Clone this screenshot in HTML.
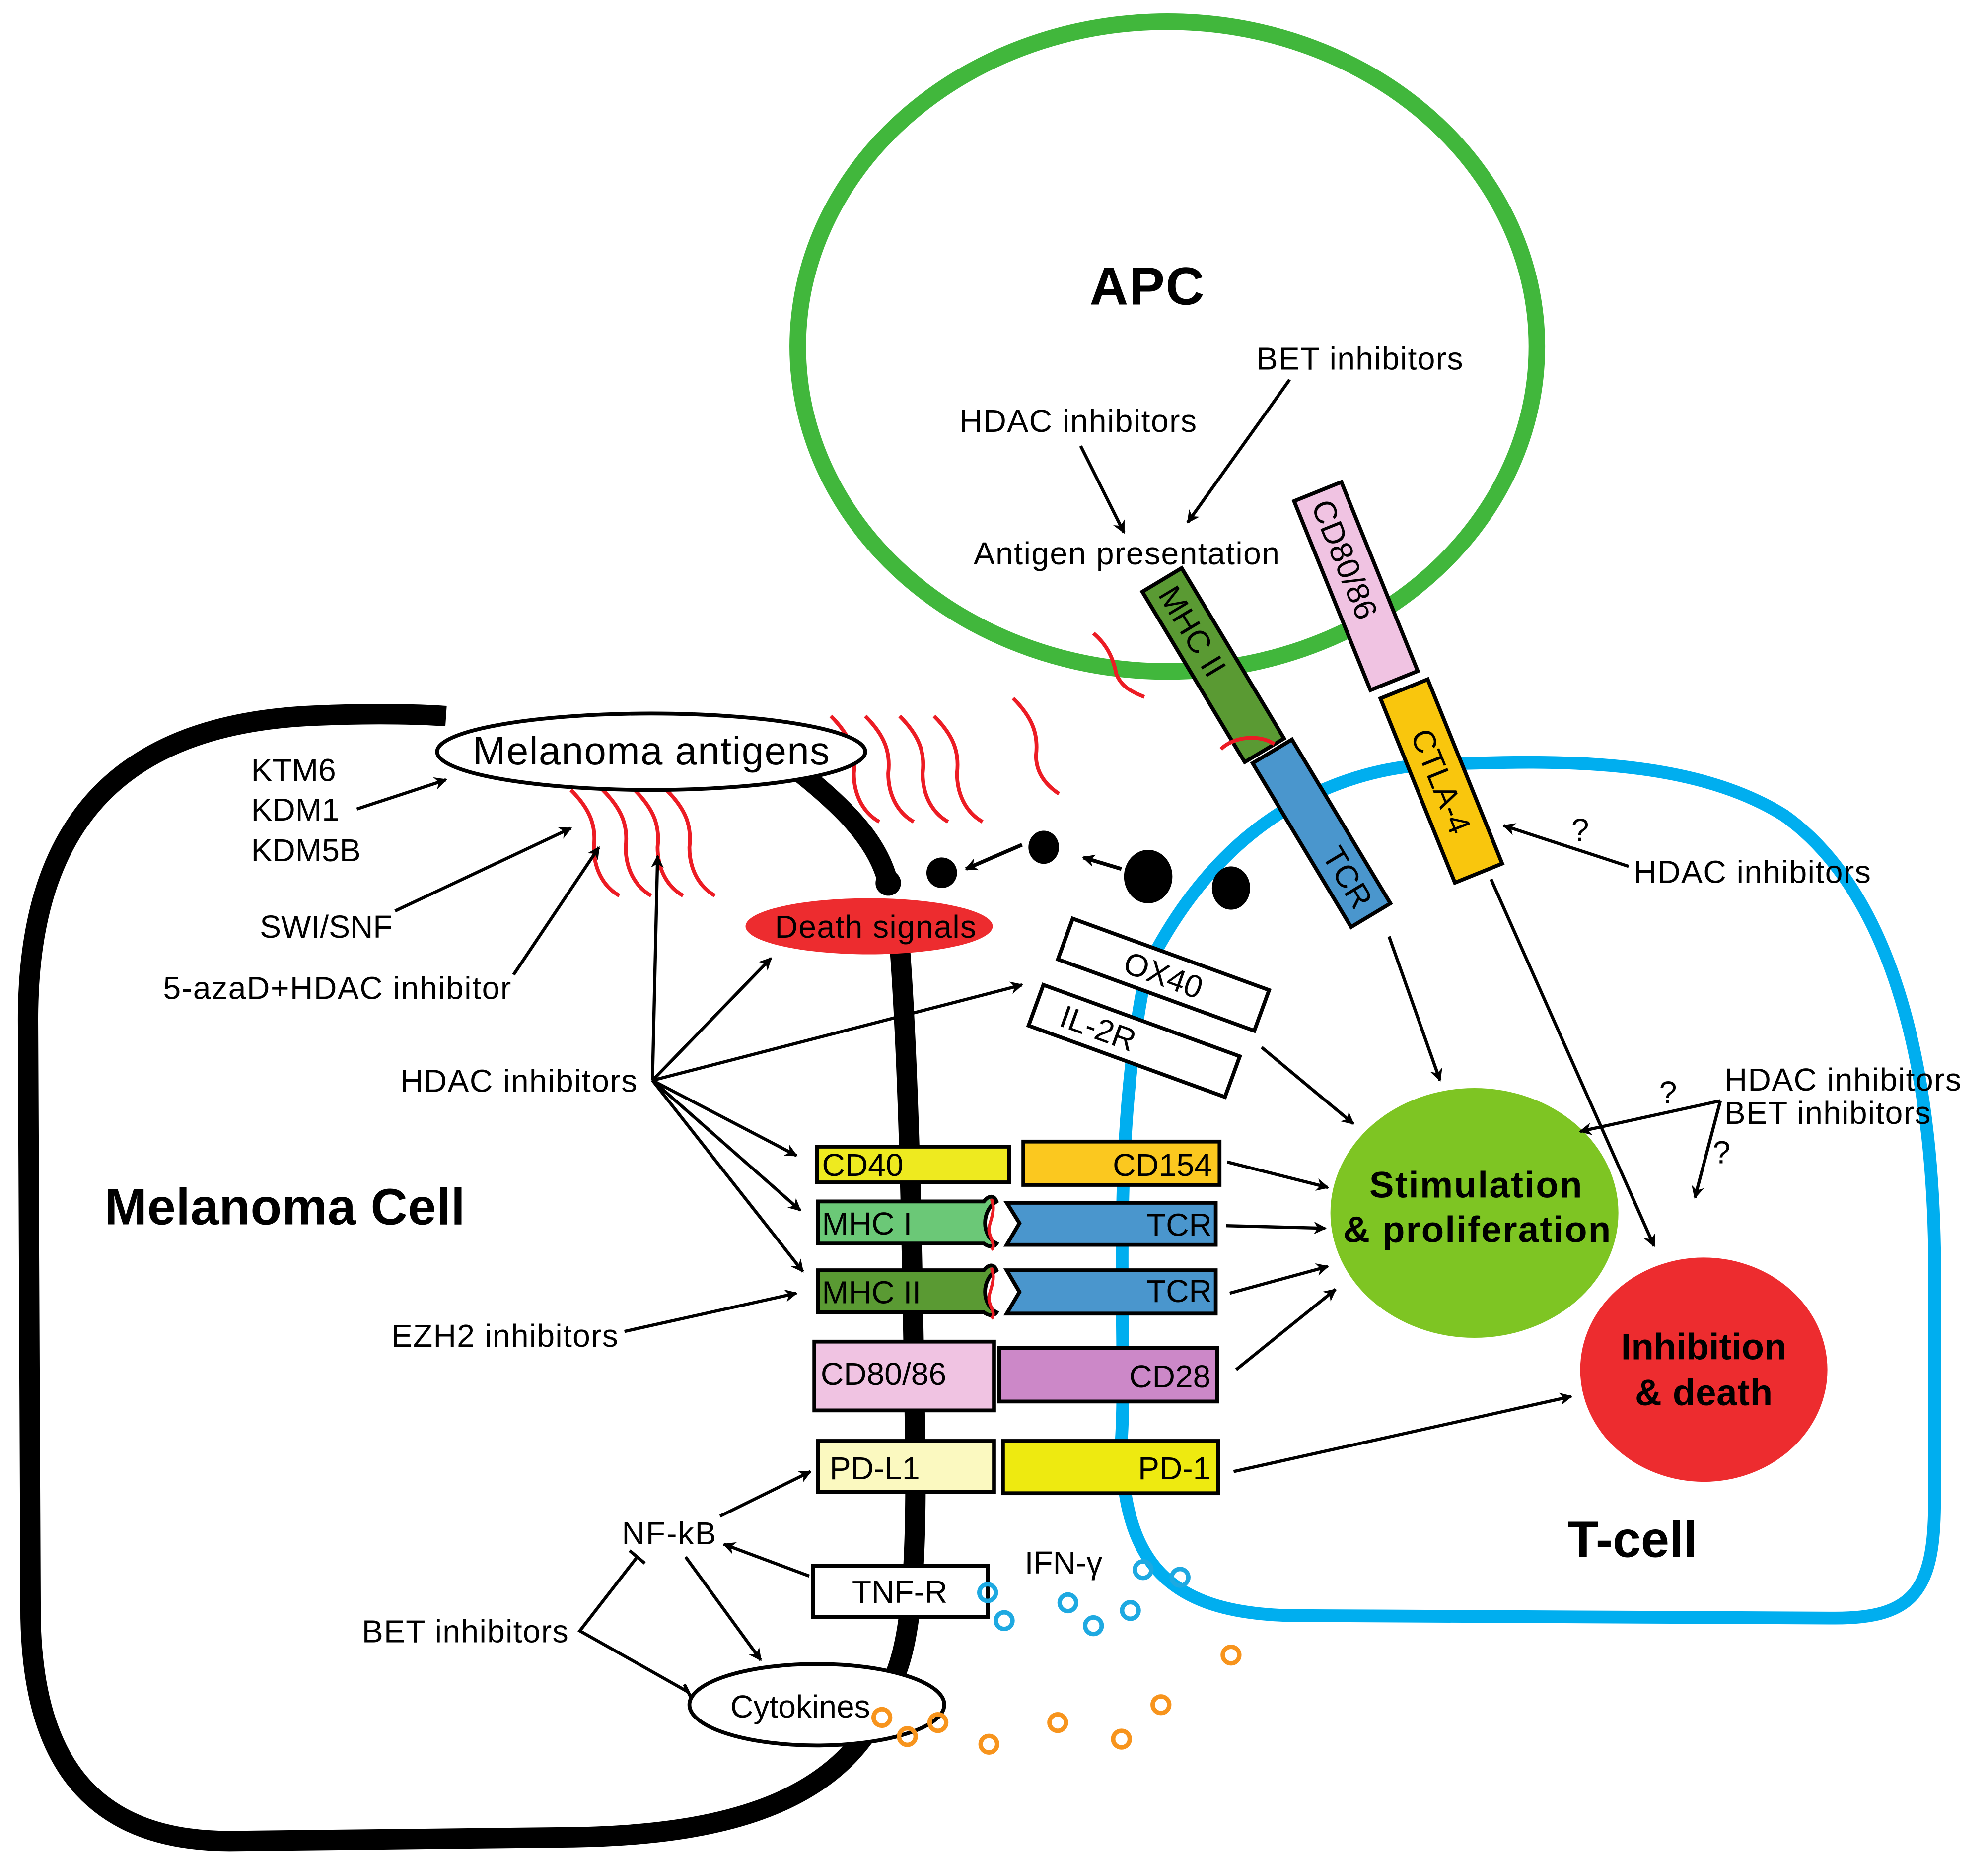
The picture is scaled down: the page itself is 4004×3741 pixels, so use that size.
<!DOCTYPE html>
<html><head><meta charset="utf-8"><style>
html,body{margin:0;padding:0;background:#fff}
svg{display:block}
text{font-family:"Liberation Sans",Arial,sans-serif;fill:#000}
</style></head><body>
<svg width="4004" height="3741" viewBox="0 0 1560 1457.5" xmlns="http://www.w3.org/2000/svg">
<defs>
<marker id="a" markerWidth="10" markerHeight="10" refX="9" refY="5" orient="auto" markerUnits="userSpaceOnUse" viewBox="0 0 10 10">
<path d="M0,0 L10,5 L0,10 L3,5 z" fill="#000"/></marker>
</defs>
<rect width="1560" height="1458" fill="#fff"/>

<!-- APC -->
<ellipse cx="916" cy="272" rx="290" ry="255" fill="none" stroke="#41b73c" stroke-width="13"/>
<!-- T-cell -->
<path d="M900,760 C870,900 885,1050 880,1130 C880,1230 920,1265 1010,1268 L1440,1270 C1500,1270 1518,1250 1518,1180 L1518,980 C1515,800 1470,690 1400,640 C1320,590 1200,598 1120,600 C1050,605 960,640 900,760 Z" fill="none" stroke="#00aeef" stroke-width="10"/>
<!-- Melanoma cell outline -->
<path d="M630,608 C670,640 690,665 697,693" fill="none" stroke="#000" stroke-width="16" stroke-linecap="round"/>
<path d="M706,742 C714,850 716,1000 718,1120 C720,1230 715,1290 700,1320 C670,1410 580,1440 450,1442 L180,1445 C70,1445 26,1380 24,1270 L22,800 C22,640 100,570 240,562 C280,560 320,560 350,562" fill="none" stroke="#000" stroke-width="16"/>

<!-- red squiggles -->
<g fill="none" stroke="#ec1c24" stroke-width="3">
<path d="M448,620 c15,15 20,28 18,45 c0,15 6,30 20,38"/>
<path d="M473,620 c15,15 20,28 18,45 c0,15 6,30 20,38"/>
<path d="M498,620 c15,15 20,28 18,45 c0,15 6,30 20,38"/>
<path d="M523,620 c15,15 20,28 18,45 c0,15 6,30 20,38"/>
<path d="M652,562 c15,15 20,28 18,45 c0,15 6,30 20,38"/>
<path d="M679,562 c15,15 20,28 18,45 c0,15 6,30 20,38"/>
<path d="M706,562 c15,15 20,28 18,45 c0,15 6,30 20,38"/>
<path d="M733,562 c15,15 20,28 18,45 c0,15 6,30 20,38"/>
<path d="M795,548 c15,15 20,28 18,45 c0,12 6,22 18,30"/>
<path d="M858,497 c12,10 16,22 18,32 c4,10 12,14 22,18"/>
</g>

<!-- Melanoma antigens -->
<ellipse cx="511" cy="590" rx="168" ry="30" fill="#fff" stroke="#000" stroke-width="3"/>
<text x="511" y="600" font-size="31" text-anchor="middle" textLength="280">Melanoma antigens</text>

<!-- death signals -->
<ellipse cx="682" cy="727" rx="97" ry="22" fill="#ed2c2f"/>
<text x="687" y="736" font-size="25" text-anchor="middle" textLength="158">Death signals</text>
<circle cx="697" cy="693" r="10" fill="#000"/>
<ellipse cx="739" cy="685" rx="12" ry="12" fill="#000"/>
<ellipse cx="819" cy="665" rx="12" ry="13" fill="#000"/>
<ellipse cx="901" cy="688" rx="19" ry="21" fill="#000"/>
<ellipse cx="966" cy="697" rx="15" ry="17" fill="#000"/>
<line x1="802" y1="663" x2="758" y2="682" stroke="#000" stroke-width="3" marker-end="url(#a)"/>
<line x1="880" y1="682" x2="850" y2="673" stroke="#000" stroke-width="3" marker-end="url(#a)"/>

<!-- APC bars -->
<g transform="translate(952,522) rotate(59)">
<rect x="-78" y="-18" width="156" height="36" fill="#5a9a33" stroke="#000" stroke-width="3"/>
<text x="-70" y="9" font-size="25">MHC II</text>
</g>
<g transform="translate(1037,654) rotate(59)">
<rect x="-75" y="-18" width="150" height="36" fill="#4a96cd" stroke="#000" stroke-width="3"/>
<text x="66" y="9" font-size="25" text-anchor="end">TCR</text>
</g>
<path d="M958,588 c10,-10 30,-12 42,-4" fill="none" stroke="#ec1c24" stroke-width="3"/>
<g transform="translate(1064,460) rotate(68)">
<rect x="-80" y="-20" width="160" height="40" fill="#f0c3e2" stroke="#000" stroke-width="3"/>
<text x="-72" y="9" font-size="25">CD80/86</text>
</g>
<g transform="translate(1131,613) rotate(68)">
<rect x="-78" y="-20" width="156" height="40" fill="#f9c60d" stroke="#000" stroke-width="3"/>
<text x="0" y="9" font-size="25" text-anchor="middle">CTLA-4</text>
</g>

<!-- APC text -->
<text x="900" y="239" font-size="42" font-weight="bold" text-anchor="middle" textLength="90">APC</text>
<text x="986" y="290" font-size="25" textLength="162">BET inhibitors</text>
<text x="753" y="339" font-size="25" textLength="186">HDAC inhibitors</text>
<text x="764" y="443" font-size="25" textLength="240">Antigen presentation</text>
<line x1="848" y1="350" x2="882" y2="418" stroke="#000" stroke-width="2.5" marker-end="url(#a)"/>
<line x1="1012" y1="298" x2="932" y2="410" stroke="#000" stroke-width="2.5" marker-end="url(#a)"/>

<!-- OX40 / IL-2R -->
<g transform="translate(913,765) rotate(20)">
<rect x="-82" y="-17" width="164" height="34" fill="#fff" stroke="#000" stroke-width="3"/>
<text x="0" y="9" font-size="25" text-anchor="middle">OX40</text>
</g>
<g transform="translate(890,817) rotate(20)">
<rect x="-82" y="-17" width="164" height="34" fill="#fff" stroke="#000" stroke-width="3"/>
<text x="-30" y="9" font-size="25" text-anchor="middle">IL-2R</text>
</g>

<!-- receptor pairs -->
<rect x="641" y="900" width="151" height="28" fill="#eeea1f" stroke="#000" stroke-width="3"/>
<text x="645" y="923" font-size="25">CD40</text>
<rect x="803" y="896" width="154" height="34" fill="#fbc81f" stroke="#000" stroke-width="3"/>
<text x="951" y="923" font-size="25" text-anchor="end">CD154</text>

<path d="M642,943 L772,943 C776,938 780,938 782,943 C770,950 770,970 782,976 C780,979 776,979 772,976 L642,976 Z" fill="#6bc877" stroke="#000" stroke-width="3"/>
<text x="645" y="969" font-size="25">MHC I</text>
<path d="M790,944 L954,944 L954,977 L790,977 L800,960 Z" fill="#4a96cd" stroke="#000" stroke-width="3"/>
<text x="951" y="970" font-size="25" text-anchor="end">TCR</text>
<path d="M778,941 c4,10 -2,18 -2,24 c0,6 6,12 2,16" fill="none" stroke="#ec1c24" stroke-width="2.5"/>

<path d="M642,997 L772,997 C776,992 780,992 782,997 C770,1004 770,1024 782,1030 C780,1033 776,1033 772,1030 L642,1030 Z" fill="#5a9a33" stroke="#000" stroke-width="3"/>
<text x="645" y="1023" font-size="25">MHC II</text>
<path d="M790,997 L954,997 L954,1031 L790,1031 L800,1014 Z" fill="#4a96cd" stroke="#000" stroke-width="3"/>
<text x="951" y="1022" font-size="25" text-anchor="end">TCR</text>
<path d="M778,995 c4,10 -2,18 -2,24 c0,6 6,12 2,16" fill="none" stroke="#ec1c24" stroke-width="2.5"/>

<rect x="639" y="1053" width="141" height="54" fill="#f0c3e2" stroke="#000" stroke-width="3"/>
<text x="644" y="1087" font-size="25">CD80/86</text>
<rect x="784" y="1058" width="171" height="42" fill="#cc88c8" stroke="#000" stroke-width="3"/>
<text x="950" y="1089" font-size="25" text-anchor="end">CD28</text>

<rect x="642" y="1131" width="138" height="40" fill="#fbf9c0" stroke="#000" stroke-width="3"/>
<text x="651" y="1161" font-size="25">PD-L1</text>
<rect x="787" y="1131" width="169" height="41" fill="#eeea10" stroke="#000" stroke-width="3"/>
<text x="950" y="1161" font-size="25" text-anchor="end">PD-1</text>

<rect x="638" y="1229" width="137" height="40" fill="#fff" stroke="#000" stroke-width="3"/>
<text x="706" y="1258" font-size="25" text-anchor="middle">TNF-R</text>

<!-- outcome circles -->
<ellipse cx="1157" cy="952" rx="113" ry="98" fill="#7ec523"/>
<text x="1158" y="940" font-size="29" font-weight="bold" text-anchor="middle" textLength="167">Stimulation</text>
<text x="1159" y="975" font-size="29" font-weight="bold" text-anchor="middle" textLength="210">&amp; proliferation</text>
<ellipse cx="1337" cy="1075" rx="97" ry="88" fill="#ed2c2f"/>
<text x="1337" y="1067" font-size="29" font-weight="bold" text-anchor="middle" textLength="130">Inhibition</text>
<text x="1337" y="1103" font-size="29" font-weight="bold" text-anchor="middle" textLength="108">&amp; death</text>

<!-- cell labels -->
<text x="82" y="961" font-size="40" font-weight="bold" textLength="283">Melanoma Cell</text>
<text x="1230" y="1222" font-size="40" font-weight="bold" textLength="102">T-cell</text>

<!-- left texts -->
<g font-size="25">
<text x="197" y="613">KTM6</text>
<text x="197" y="644">KDM1</text>
<text x="197" y="676">KDM5B</text>
<text x="308" y="736" text-anchor="end">SWI/SNF</text>
<text x="128" y="784" textLength="273">5-azaD+HDAC inhibitor</text>
<text x="314" y="857" textLength="186">HDAC inhibitors</text>
<text x="307" y="1057" textLength="178">EZH2 inhibitors</text>
<text x="488" y="1212" textLength="74">NF-kB</text>
<text x="284" y="1289" textLength="162">BET inhibitors</text>
<text x="804" y="1235">IFN-γ</text>
<text x="1282" y="693" textLength="186">HDAC inhibitors</text>
<text x="1353" y="856" textLength="186">HDAC inhibitors</text>
<text x="1353" y="882" textLength="162">BET inhibitors</text>
<text x="1233" y="660">?</text>
<text x="1302" y="866">?</text>
<text x="1344" y="913">?</text>
</g>

<!-- cytokines -->
<ellipse cx="641" cy="1338" rx="100" ry="32" fill="#fff" stroke="#000" stroke-width="3"/>
<text x="628" y="1348" font-size="25" text-anchor="middle">Cytokines</text>

<!-- arrows -->
<g stroke="#000" stroke-width="2.5" fill="none">
<line x1="280" y1="635" x2="350" y2="612" marker-end="url(#a)"/>
<line x1="310" y1="715" x2="448" y2="650" marker-end="url(#a)"/>
<line x1="403" y1="765" x2="470" y2="665" marker-end="url(#a)"/>
<line x1="512" y1="848" x2="516" y2="672" marker-end="url(#a)"/>
<line x1="512" y1="848" x2="605" y2="752" marker-end="url(#a)"/>
<line x1="512" y1="848" x2="802" y2="773" marker-end="url(#a)"/>
<line x1="512" y1="848" x2="625" y2="907" marker-end="url(#a)"/>
<line x1="512" y1="848" x2="628" y2="950" marker-end="url(#a)"/>
<line x1="512" y1="848" x2="630" y2="998" marker-end="url(#a)"/>
<line x1="490" y1="1045" x2="625" y2="1015" marker-end="url(#a)"/>
<line x1="565" y1="1190" x2="636" y2="1155" marker-end="url(#a)"/>
<line x1="635" y1="1237" x2="568" y2="1212" marker-end="url(#a)"/>
<line x1="538" y1="1222" x2="597" y2="1303" marker-end="url(#a)"/>
<polyline points="500,1222 455,1280 540,1328"/>
<line x1="494" y1="1217" x2="506" y2="1227"/>
<line x1="537" y1="1322" x2="543" y2="1334"/>
<line x1="990" y1="822" x2="1062" y2="882" marker-end="url(#a)"/>
<line x1="1090" y1="735" x2="1130" y2="848" marker-end="url(#a)"/>
<line x1="963" y1="912" x2="1042" y2="932" marker-end="url(#a)"/>
<line x1="962" y1="962" x2="1040" y2="964" marker-end="url(#a)"/>
<line x1="965" y1="1015" x2="1042" y2="994" marker-end="url(#a)"/>
<line x1="970" y1="1075" x2="1048" y2="1012" marker-end="url(#a)"/>
<line x1="968" y1="1155" x2="1233" y2="1096" marker-end="url(#a)"/>
<line x1="1170" y1="690" x2="1298" y2="978" marker-end="url(#a)"/>
<line x1="1278" y1="680" x2="1180" y2="648" marker-end="url(#a)"/>
<line x1="1350" y1="864" x2="1240" y2="888" marker-end="url(#a)"/>
<line x1="1350" y1="864" x2="1330" y2="940" marker-end="url(#a)"/>
</g>

<!-- IFN / cytokine particles -->
<g fill="none" stroke="#1ea9e1" stroke-width="3.5">
<circle cx="775" cy="1250" r="6.5"/><circle cx="788" cy="1272" r="6.5"/>
<circle cx="838" cy="1258" r="6.5"/><circle cx="858" cy="1276" r="6.5"/>
<circle cx="887" cy="1264" r="6.5"/><circle cx="897" cy="1232" r="6.5"/>
<circle cx="926" cy="1238" r="6.5"/>
</g>
<g fill="none" stroke="#f7941d" stroke-width="3.5">
<circle cx="692" cy="1348" r="6.5"/><circle cx="712" cy="1363" r="6.5"/>
<circle cx="736" cy="1352" r="6.5"/><circle cx="776" cy="1369" r="6.5"/>
<circle cx="830" cy="1352" r="6.5"/><circle cx="880" cy="1365" r="6.5"/>
<circle cx="911" cy="1338" r="6.5"/><circle cx="966" cy="1299" r="6.5"/>
</g>
</svg>
</body></html>
